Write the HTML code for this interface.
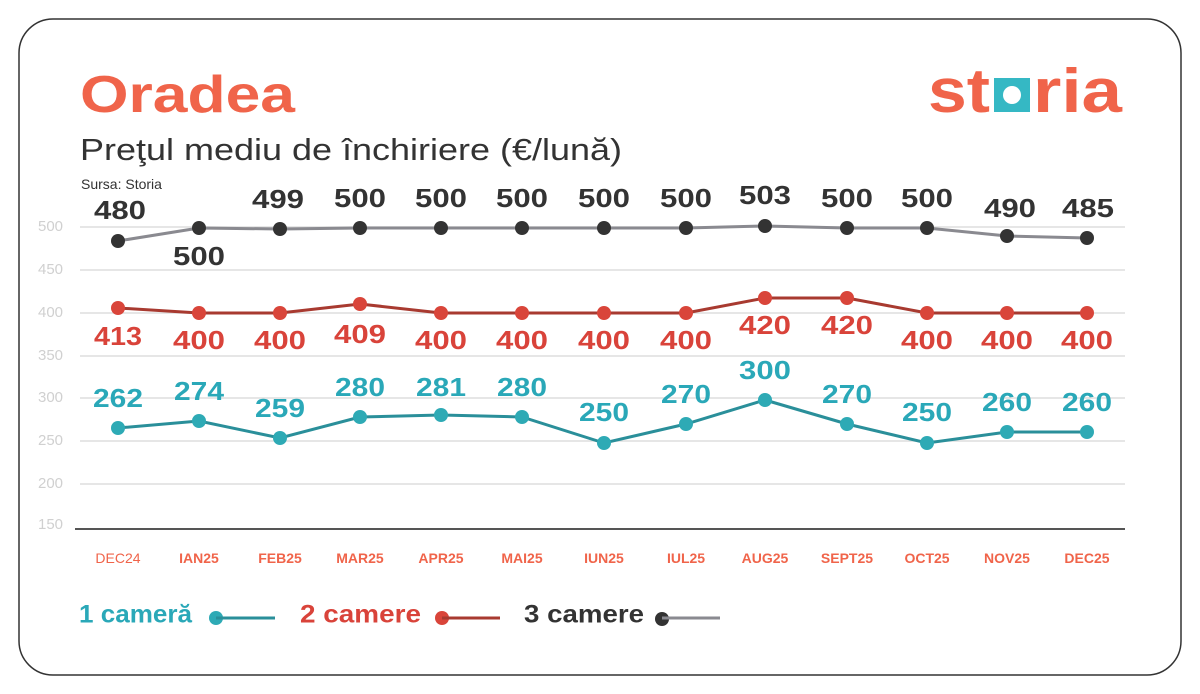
<!DOCTYPE html>
<html><head><meta charset="utf-8"><style>
body{margin:0;background:#fff;}
svg{display:block;font-family:"Liberation Sans",sans-serif;}
</style></head><body>
<svg width="1200" height="694" viewBox="0 0 1200 694">
<rect x="19" y="19" width="1162" height="656" rx="34" fill="#fff" stroke="#333" stroke-width="1.5"/>
<text x="80" y="112" font-size="52" font-weight="bold" fill="#f0644a" textLength="215" lengthAdjust="spacingAndGlyphs">Oradea</text>
<text x="80" y="160" font-size="31" fill="#333" textLength="542" lengthAdjust="spacingAndGlyphs">Preţul mediu de închiriere (€/lună)</text>
<text x="81" y="189" font-size="14" fill="#333">Sursa: Storia</text>
<!-- logo -->
<text x="928" y="112" font-size="62" font-weight="bold" fill="#f0644a" textLength="62" lengthAdjust="spacingAndGlyphs">st</text>
<rect x="994" y="78" width="36" height="34" fill="#35b8c4"/>
<circle cx="1012" cy="95" r="9" fill="#fff"/>
<text x="1033" y="112" font-size="62" font-weight="bold" fill="#f0644a" textLength="89" lengthAdjust="spacingAndGlyphs">ria</text>
<!-- grid -->
<g stroke="#ddd" stroke-width="1.5">
<line x1="80" x2="1125" y1="227" y2="227"/><line x1="80" x2="1125" y1="270" y2="270"/>
<line x1="80" x2="1125" y1="313" y2="313"/><line x1="80" x2="1125" y1="356" y2="356"/>
<line x1="80" x2="1125" y1="398" y2="398"/><line x1="80" x2="1125" y1="441" y2="441"/>
<line x1="80" x2="1125" y1="484" y2="484"/>
</g>
<line x1="75" x2="1125" y1="529" y2="529" stroke="#555" stroke-width="2"/>
<g font-size="15" fill="#d0d0d0" dominant-baseline="middle">
<text x="38" y="227">500</text><text x="38" y="270">450</text><text x="38" y="313">400</text><text x="38" y="356">350</text><text x="38" y="398">300</text><text x="38" y="441">250</text><text x="38" y="484">200</text><text x="38" y="525">150</text>
</g>
<g font-size="14" font-weight="bold" fill="#f0644a" text-anchor="middle">
<text x="118" y="563" font-weight="normal">DEC24</text><text x="199" y="563">IAN25</text><text x="280" y="563">FEB25</text><text x="360" y="563">MAR25</text><text x="441" y="563">APR25</text><text x="522" y="563">MAI25</text><text x="604" y="563">IUN25</text><text x="686" y="563">IUL25</text><text x="765" y="563">AUG25</text><text x="847" y="563">SEPT25</text><text x="927" y="563">OCT25</text><text x="1007" y="563">NOV25</text><text x="1087" y="563">DEC25</text>
</g>
<!-- gray -->
<polyline fill="none" stroke="#8a8a90" stroke-width="3" points="118,241 199,228 280,229 360,228 441,228 522,228 604,228 686,228 765,226 847,228 927,228 1007,236 1087,238"/>
<g fill="#333"><circle cx="118" cy="241" r="7"/><circle cx="199" cy="228" r="7"/><circle cx="280" cy="229" r="7"/><circle cx="360" cy="228" r="7"/><circle cx="441" cy="228" r="7"/><circle cx="522" cy="228" r="7"/><circle cx="604" cy="228" r="7"/><circle cx="686" cy="228" r="7"/><circle cx="765" cy="226" r="7"/><circle cx="847" cy="228" r="7"/><circle cx="927" cy="228" r="7"/><circle cx="1007" cy="236" r="7"/><circle cx="1087" cy="238" r="7"/></g>
<g font-size="26" font-weight="bold" fill="#333" text-anchor="middle" dominant-baseline="middle">
<text x="120" y="212" textLength="52" lengthAdjust="spacingAndGlyphs">480</text><text x="199" y="258" textLength="52" lengthAdjust="spacingAndGlyphs">500</text><text x="278" y="201" textLength="52" lengthAdjust="spacingAndGlyphs">499</text><text x="360" y="200" textLength="52" lengthAdjust="spacingAndGlyphs">500</text><text x="441" y="200" textLength="52" lengthAdjust="spacingAndGlyphs">500</text><text x="522" y="200" textLength="52" lengthAdjust="spacingAndGlyphs">500</text><text x="604" y="200" textLength="52" lengthAdjust="spacingAndGlyphs">500</text><text x="686" y="200" textLength="52" lengthAdjust="spacingAndGlyphs">500</text><text x="765" y="197" textLength="52" lengthAdjust="spacingAndGlyphs">503</text><text x="847" y="200" textLength="52" lengthAdjust="spacingAndGlyphs">500</text><text x="927" y="200" textLength="52" lengthAdjust="spacingAndGlyphs">500</text><text x="1010" y="210" textLength="52" lengthAdjust="spacingAndGlyphs">490</text><text x="1088" y="210" textLength="52" lengthAdjust="spacingAndGlyphs">485</text>
</g>
<!-- red -->
<polyline fill="none" stroke="#a83a30" stroke-width="3" points="118,308 199,313 280,313 360,304 441,313 522,313 604,313 686,313 765,298 847,298 927,313 1007,313 1087,313"/>
<g fill="#d9453a"><circle cx="118" cy="308" r="7"/><circle cx="199" cy="313" r="7"/><circle cx="280" cy="313" r="7"/><circle cx="360" cy="304" r="7"/><circle cx="441" cy="313" r="7"/><circle cx="522" cy="313" r="7"/><circle cx="604" cy="313" r="7"/><circle cx="686" cy="313" r="7"/><circle cx="765" cy="298" r="7"/><circle cx="847" cy="298" r="7"/><circle cx="927" cy="313" r="7"/><circle cx="1007" cy="313" r="7"/><circle cx="1087" cy="313" r="7"/></g>
<g font-size="26" font-weight="bold" fill="#d9433a" text-anchor="middle" dominant-baseline="middle">
<text x="118" y="338" textLength="48" lengthAdjust="spacingAndGlyphs">413</text><text x="199" y="342" textLength="52" lengthAdjust="spacingAndGlyphs">400</text><text x="280" y="342" textLength="52" lengthAdjust="spacingAndGlyphs">400</text><text x="360" y="336" textLength="52" lengthAdjust="spacingAndGlyphs">409</text><text x="441" y="342" textLength="52" lengthAdjust="spacingAndGlyphs">400</text><text x="522" y="342" textLength="52" lengthAdjust="spacingAndGlyphs">400</text><text x="604" y="342" textLength="52" lengthAdjust="spacingAndGlyphs">400</text><text x="686" y="342" textLength="52" lengthAdjust="spacingAndGlyphs">400</text><text x="765" y="327" textLength="52" lengthAdjust="spacingAndGlyphs">420</text><text x="847" y="327" textLength="52" lengthAdjust="spacingAndGlyphs">420</text><text x="927" y="342" textLength="52" lengthAdjust="spacingAndGlyphs">400</text><text x="1007" y="342" textLength="52" lengthAdjust="spacingAndGlyphs">400</text><text x="1087" y="342" textLength="52" lengthAdjust="spacingAndGlyphs">400</text>
</g>
<!-- teal -->
<polyline fill="none" stroke="#2a8f9a" stroke-width="3" points="118,428 199,421 280,438 360,417 441,415 522,417 604,443 686,424 765,400 847,424 927,443 1007,432 1087,432"/>
<g fill="#2eaab5"><circle cx="118" cy="428" r="7"/><circle cx="199" cy="421" r="7"/><circle cx="280" cy="438" r="7"/><circle cx="360" cy="417" r="7"/><circle cx="441" cy="415" r="7"/><circle cx="522" cy="417" r="7"/><circle cx="604" cy="443" r="7"/><circle cx="686" cy="424" r="7"/><circle cx="765" cy="400" r="7"/><circle cx="847" cy="424" r="7"/><circle cx="927" cy="443" r="7"/><circle cx="1007" cy="432" r="7"/><circle cx="1087" cy="432" r="7"/></g>
<g font-size="26" font-weight="bold" fill="#2aa8b8" text-anchor="middle" dominant-baseline="middle">
<text x="118" y="400" textLength="50" lengthAdjust="spacingAndGlyphs">262</text><text x="199" y="393" textLength="50" lengthAdjust="spacingAndGlyphs">274</text><text x="280" y="410" textLength="50" lengthAdjust="spacingAndGlyphs">259</text><text x="360" y="389" textLength="50" lengthAdjust="spacingAndGlyphs">280</text><text x="441" y="389" textLength="50" lengthAdjust="spacingAndGlyphs">281</text><text x="522" y="389" textLength="50" lengthAdjust="spacingAndGlyphs">280</text><text x="604" y="414" textLength="50" lengthAdjust="spacingAndGlyphs">250</text><text x="686" y="396" textLength="50" lengthAdjust="spacingAndGlyphs">270</text><text x="765" y="372" textLength="52" lengthAdjust="spacingAndGlyphs">300</text><text x="847" y="396" textLength="50" lengthAdjust="spacingAndGlyphs">270</text><text x="927" y="414" textLength="50" lengthAdjust="spacingAndGlyphs">250</text><text x="1007" y="404" textLength="50" lengthAdjust="spacingAndGlyphs">260</text><text x="1087" y="404" textLength="50" lengthAdjust="spacingAndGlyphs">260</text>
</g>
<!-- legend -->
<g font-size="25" font-weight="bold" dominant-baseline="middle">
<text x="79" y="616" fill="#2aa8b8" textLength="113" lengthAdjust="spacingAndGlyphs">1 cameră</text>
<circle cx="216" cy="618" r="7" fill="#2eaab5"/><line x1="216" x2="275" y1="618" y2="618" stroke="#2a8f9a" stroke-width="3"/>
<text x="300" y="616" fill="#d9433a" textLength="121" lengthAdjust="spacingAndGlyphs">2 camere</text>
<circle cx="442" cy="618" r="7" fill="#d9453a"/><line x1="442" x2="500" y1="618" y2="618" stroke="#a83a30" stroke-width="3"/>
<text x="524" y="616" fill="#333" textLength="120" lengthAdjust="spacingAndGlyphs">3 camere</text>
<circle cx="662" cy="619" r="7" fill="#333"/><line x1="662" x2="720" y1="618" y2="618" stroke="#8a8a90" stroke-width="3"/>
</g>
</svg>
</body></html>
